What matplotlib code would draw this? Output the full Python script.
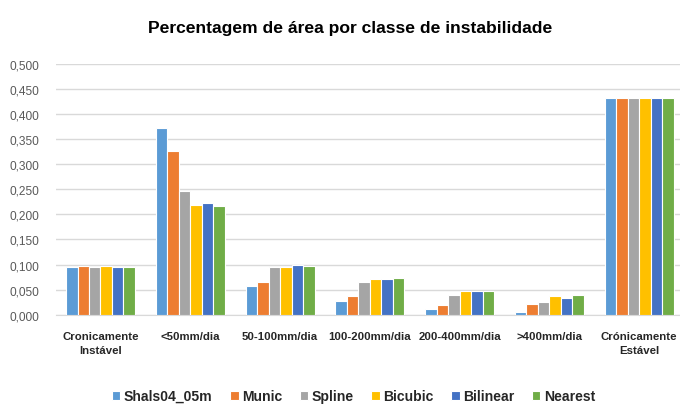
import numpy as np
import matplotlib
matplotlib.use("Agg")
import matplotlib.pyplot as plt
from matplotlib.ticker import FuncFormatter

plt.rcParams['font.family'] = ['Liberation Sans', 'DejaVu Sans']

categories = ["Cronicamente\nInstável", "<50mm/dia", "50-100mm/dia", "100-200mm/dia",
              "200-400mm/dia", ">400mm/dia", "Crónicamente\nEstável"]
series_names = ["Shals04_05m", "Munic", "Spline", "Bicubic", "Bilinear", "Nearest"]
shals = [0.095, 0.372, 0.057, 0.027, 0.011, 0.005, 0.432]
munic = [0.097, 0.327, 0.065, 0.038, 0.020, 0.022, 0.432]
spline = [0.095, 0.247, 0.095, 0.066, 0.040, 0.025, 0.432]
bicubic = [0.097, 0.218, 0.095, 0.072, 0.047, 0.038, 0.432]
bilinear = [0.095, 0.223, 0.099, 0.072, 0.047, 0.033, 0.432]
nearest = [0.095, 0.216, 0.097, 0.074, 0.047, 0.040, 0.432]
colors = ["#5B9BD5", "#ED7D31", "#A5A5A5", "#FFC000", "#4472C4", "#70AD47"]

data = [shals, munic, spline, bicubic, bilinear, nearest]

fig = plt.figure(figsize=(6.8, 4.06), dpi=100)
ax = fig.add_axes([55.6 / 680, 90.3 / 406, 628.4 / 680, 250.7 / 406])

x = np.arange(len(categories))
slot = 0.128
for i, (vals, name, c) in enumerate(zip(data, series_names, colors)):
    ax.bar(x + (i - 2.5) * slot, vals, width=slot, color=c, edgecolor="white",
           linewidth=0.8, label=name, zorder=3)

ax.set_xlim(-0.5, len(categories) - 0.5)
ax.set_ylim(0, 0.5)
ax.set_yticks(np.arange(0, 0.501, 0.05))
ax.yaxis.set_major_formatter(FuncFormatter(lambda v, p: f"{v:.3f}".replace(".", ",")))
ax.grid(axis="y", color="#D9D9D9", linewidth=1, zorder=0)
for s in ["top", "right", "left"]:
    ax.spines[s].set_visible(False)
ax.spines["bottom"].set_color("#D9D9D9")
ax.tick_params(axis="both", length=0)
ax.tick_params(axis="y", pad=12, labelsize=8.6, labelcolor="#595959")
ax.tick_params(axis="x", pad=12, labelsize=8.2, labelcolor="#262626")
ax.set_xticks(x)
ax.set_xticklabels(categories, linespacing=1.45, fontweight="bold")

fig.text(0.515, 0.929, "Percentagem de área por classe de instabilidade",
         ha="center", va="center", fontsize=12.6, fontweight="bold", color="#000000")

fig.legend(loc="center", bbox_to_anchor=(0.52, 0.022), ncol=6, frameon=False,
           handlelength=0.6, handleheight=0.6, handletextpad=0.25,
           columnspacing=1.25, prop={"size": 10.1, "weight": "bold"},
           labelcolor="#262626")

fig.savefig("out.png", dpi=100)
